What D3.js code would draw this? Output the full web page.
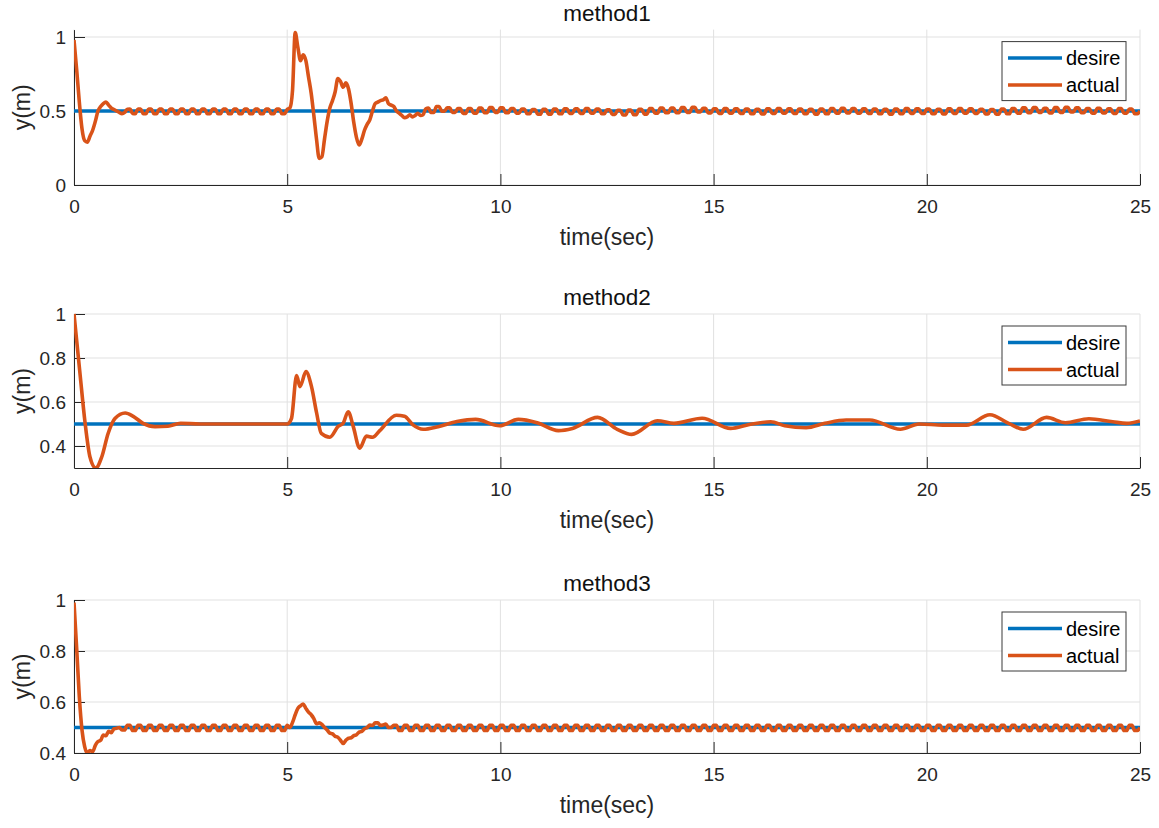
<!DOCTYPE html>
<html>
<head>
<meta charset="utf-8">
<script src="https://cdn.jsdelivr.net/npm/d3@7"></script>
<style>
  body { margin: 0; background: #fff; }
  svg { display: block; font-family: "Liberation Sans", Arial, Helvetica, sans-serif; }
</style>
</head>
<body>
<svg id="chart" width="1159" height="828"></svg>
<script>
// sample step of the simulated signals (s)
const dt = 0.0625;

const xTicks = [0, 5, 10, 15, 20, 25];
const titles = ["method1", "method2", "method3"];
const legendLabels = ["desire", "actual"];

// reference signal
const desireTime = [0, 25];
const desireValue = [0.5, 0.5];

// method1 actual, one row per second (16 samples)
const actual1Rows = [
  [0.98, 0.78, 0.56, 0.38, 0.30, 0.29, 0.33, 0.37, 0.43, 0.50, 0.53, 0.55, 0.56, 0.54, 0.52, 0.51],
  [0.50, 0.49, 0.482, 0.49, 0.512, 0.513, 0.483, 0.481, 0.513, 0.513, 0.481, 0.481, 0.513, 0.513, 0.481, 0.481],
  [0.513, 0.513, 0.481, 0.481, 0.513, 0.513, 0.481, 0.481, 0.513, 0.513, 0.481, 0.481, 0.513, 0.513, 0.481, 0.481],
  [0.513, 0.513, 0.481, 0.481, 0.513, 0.513, 0.481, 0.481, 0.513, 0.513, 0.481, 0.481, 0.513, 0.513, 0.481, 0.481],
  [0.513, 0.513, 0.481, 0.481, 0.513, 0.513, 0.481, 0.481, 0.513, 0.513, 0.481, 0.481, 0.513, 0.513, 0.481, 0.481],
  [0.51, 0.52, 0.64, 1.03, 0.93, 0.84, 0.88, 0.84, 0.73, 0.62, 0.47, 0.31, 0.18, 0.19, 0.31, 0.43],
  [0.52, 0.57, 0.63, 0.72, 0.70, 0.66, 0.69, 0.65, 0.55, 0.42, 0.32, 0.27, 0.31, 0.37, 0.41, 0.44],
  [0.50, 0.55, 0.56, 0.57, 0.575, 0.59, 0.55, 0.54, 0.53, 0.50, 0.485, 0.47, 0.455, 0.46, 0.475, 0.46],
  [0.47, 0.485, 0.47, 0.475, 0.515, 0.52, 0.49, 0.49, 0.53, 0.53, 0.498, 0.498, 0.522, 0.522, 0.49, 0.49],
  [0.516, 0.516, 0.484, 0.484, 0.517, 0.517, 0.485, 0.485, 0.52, 0.52, 0.488, 0.488, 0.523, 0.523, 0.491, 0.491],
  [0.521, 0.521, 0.489, 0.489, 0.517, 0.517, 0.485, 0.485, 0.513, 0.513, 0.481, 0.481, 0.51, 0.51, 0.478, 0.478],
  [0.511, 0.511, 0.479, 0.479, 0.513, 0.513, 0.481, 0.481, 0.515, 0.515, 0.483, 0.483, 0.515, 0.515, 0.483, 0.483],
  [0.517, 0.517, 0.485, 0.485, 0.513, 0.513, 0.481, 0.481, 0.508, 0.508, 0.476, 0.476, 0.505, 0.505, 0.473, 0.473],
  [0.507, 0.507, 0.475, 0.475, 0.511, 0.511, 0.479, 0.479, 0.517, 0.517, 0.485, 0.485, 0.52, 0.52, 0.488, 0.488],
  [0.52, 0.52, 0.488, 0.488, 0.523, 0.523, 0.491, 0.491, 0.525, 0.525, 0.493, 0.493, 0.519, 0.519, 0.487, 0.487],
  [0.515, 0.515, 0.483, 0.483, 0.517, 0.517, 0.485, 0.485, 0.515, 0.515, 0.483, 0.483, 0.513, 0.513, 0.481, 0.481],
  [0.512, 0.512, 0.48, 0.48, 0.515, 0.515, 0.483, 0.483, 0.517, 0.517, 0.485, 0.485, 0.515, 0.515, 0.483, 0.483],
  [0.513, 0.513, 0.481, 0.481, 0.511, 0.511, 0.479, 0.479, 0.513, 0.513, 0.481, 0.481, 0.517, 0.517, 0.485, 0.485],
  [0.519, 0.519, 0.487, 0.487, 0.517, 0.517, 0.485, 0.485, 0.515, 0.515, 0.483, 0.483, 0.513, 0.513, 0.481, 0.481],
  [0.511, 0.511, 0.479, 0.479, 0.513, 0.513, 0.481, 0.481, 0.516, 0.516, 0.484, 0.484, 0.515, 0.515, 0.483, 0.483],
  [0.513, 0.513, 0.481, 0.481, 0.512, 0.512, 0.48, 0.48, 0.515, 0.515, 0.483, 0.483, 0.517, 0.517, 0.485, 0.485],
  [0.515, 0.515, 0.483, 0.483, 0.512, 0.512, 0.48, 0.48, 0.51, 0.51, 0.478, 0.478, 0.513, 0.513, 0.481, 0.481],
  [0.517, 0.517, 0.485, 0.485, 0.521, 0.521, 0.489, 0.489, 0.523, 0.523, 0.491, 0.491, 0.519, 0.519, 0.487, 0.487],
  [0.523, 0.523, 0.491, 0.491, 0.525, 0.525, 0.493, 0.493, 0.521, 0.521, 0.489, 0.489, 0.517, 0.517, 0.485, 0.485],
  [0.519, 0.519, 0.487, 0.487, 0.515, 0.515, 0.483, 0.483, 0.517, 0.517, 0.485, 0.485, 0.513, 0.513, 0.481, 0.481],
  [0.50]
];

// method2 actual, read as [time, value] points (smooth response)
const actual2Points = [
  [0, 1.0], [0.14, 0.73], [0.26, 0.505], [0.375, 0.35], [0.51, 0.30], [0.65, 0.35],
  [0.8, 0.457], [0.96, 0.525], [1.2, 0.55], [1.39, 0.535], [1.62, 0.503], [1.9, 0.488],
  [2.2, 0.49], [2.5, 0.503], [2.95, 0.5], [5.0, 0.5], [5.1, 0.525], [5.22, 0.72],
  [5.3, 0.67], [5.44, 0.738], [5.57, 0.67], [5.69, 0.55], [5.8, 0.457], [6.0, 0.44],
  [6.2, 0.49], [6.31, 0.503], [6.43, 0.556], [6.55, 0.488], [6.7, 0.39], [6.86, 0.445],
  [7.0, 0.44], [7.17, 0.47], [7.56, 0.54], [7.75, 0.535], [7.95, 0.496], [8.19, 0.476],
  [8.54, 0.488], [8.98, 0.511], [9.42, 0.521], [9.98, 0.492], [10.42, 0.521], [10.86, 0.506],
  [11.36, 0.47], [11.69, 0.48], [12.28, 0.53], [12.74, 0.476], [13.08, 0.453], [13.68, 0.515],
  [14.07, 0.503], [14.73, 0.526], [15.4, 0.48], [15.84, 0.498], [16.34, 0.51], [16.67, 0.492],
  [17.17, 0.483], [17.61, 0.503], [18.11, 0.518], [18.66, 0.518], [19.38, 0.476], [19.82, 0.5],
  [20.38, 0.495], [20.93, 0.495], [21.48, 0.542], [21.92, 0.503], [22.26, 0.476], [22.81, 0.53],
  [23.25, 0.506], [23.8, 0.524], [24.36, 0.51], [24.69, 0.503], [25, 0.514]
];

// method3 actual, one row per second (16 samples)
const actual3Rows = [
  [0.99, 0.81, 0.62, 0.49, 0.425, 0.40, 0.41, 0.405, 0.43, 0.445, 0.45, 0.47, 0.468, 0.485, 0.48, 0.495],
  [0.497, 0.50, 0.49, 0.49, 0.509, 0.509, 0.488, 0.488, 0.509, 0.509, 0.488, 0.488, 0.509, 0.509, 0.488, 0.488],
  [0.509, 0.509, 0.488, 0.488, 0.509, 0.509, 0.488, 0.488, 0.509, 0.509, 0.488, 0.488, 0.509, 0.509, 0.488, 0.488],
  [0.509, 0.509, 0.488, 0.488, 0.509, 0.509, 0.488, 0.488, 0.509, 0.509, 0.488, 0.488, 0.509, 0.509, 0.488, 0.488],
  [0.509, 0.509, 0.488, 0.488, 0.509, 0.509, 0.488, 0.488, 0.509, 0.509, 0.488, 0.488, 0.509, 0.509, 0.488, 0.488],
  [0.509, 0.50, 0.52, 0.55, 0.575, 0.585, 0.592, 0.575, 0.56, 0.55, 0.535, 0.515, 0.518, 0.512, 0.50, 0.49],
  [0.478, 0.475, 0.465, 0.462, 0.45, 0.437, 0.45, 0.458, 0.46, 0.468, 0.472, 0.482, 0.485, 0.495, 0.50, 0.51],
  [0.508, 0.518, 0.518, 0.508, 0.51, 0.514, 0.50, 0.50, 0.509, 0.509, 0.488, 0.488, 0.509, 0.509, 0.488, 0.488],
  [0.509, 0.509, 0.488, 0.488, 0.509, 0.509, 0.488, 0.488, 0.509, 0.509, 0.488, 0.488, 0.509, 0.509, 0.488, 0.488],
  [0.509, 0.509, 0.488, 0.488, 0.509, 0.509, 0.488, 0.488, 0.509, 0.509, 0.488, 0.488, 0.509, 0.509, 0.488, 0.488],
  [0.509, 0.509, 0.488, 0.488, 0.509, 0.509, 0.488, 0.488, 0.509, 0.509, 0.488, 0.488, 0.509, 0.509, 0.488, 0.488],
  [0.509, 0.509, 0.488, 0.488, 0.509, 0.509, 0.488, 0.488, 0.509, 0.509, 0.488, 0.488, 0.509, 0.509, 0.488, 0.488],
  [0.509, 0.509, 0.488, 0.488, 0.509, 0.509, 0.488, 0.488, 0.509, 0.509, 0.488, 0.488, 0.509, 0.509, 0.488, 0.488],
  [0.509, 0.509, 0.488, 0.488, 0.509, 0.509, 0.488, 0.488, 0.509, 0.509, 0.488, 0.488, 0.509, 0.509, 0.488, 0.488],
  [0.509, 0.509, 0.488, 0.488, 0.509, 0.509, 0.488, 0.488, 0.509, 0.509, 0.488, 0.488, 0.509, 0.509, 0.488, 0.488],
  [0.509, 0.509, 0.488, 0.488, 0.509, 0.509, 0.488, 0.488, 0.509, 0.509, 0.488, 0.488, 0.509, 0.509, 0.488, 0.488],
  [0.509, 0.509, 0.488, 0.488, 0.509, 0.509, 0.488, 0.488, 0.509, 0.509, 0.488, 0.488, 0.509, 0.509, 0.488, 0.488],
  [0.509, 0.509, 0.488, 0.488, 0.509, 0.509, 0.488, 0.488, 0.509, 0.509, 0.488, 0.488, 0.509, 0.509, 0.488, 0.488],
  [0.509, 0.509, 0.488, 0.488, 0.509, 0.509, 0.488, 0.488, 0.509, 0.509, 0.488, 0.488, 0.509, 0.509, 0.488, 0.488],
  [0.509, 0.509, 0.488, 0.488, 0.509, 0.509, 0.488, 0.488, 0.509, 0.509, 0.488, 0.488, 0.509, 0.509, 0.488, 0.488],
  [0.509, 0.509, 0.488, 0.488, 0.509, 0.509, 0.488, 0.488, 0.509, 0.509, 0.488, 0.488, 0.509, 0.509, 0.488, 0.488],
  [0.509, 0.509, 0.488, 0.488, 0.509, 0.509, 0.488, 0.488, 0.509, 0.509, 0.488, 0.488, 0.509, 0.509, 0.488, 0.488],
  [0.509, 0.509, 0.488, 0.488, 0.509, 0.509, 0.488, 0.488, 0.509, 0.509, 0.488, 0.488, 0.509, 0.509, 0.488, 0.488],
  [0.509, 0.509, 0.488, 0.488, 0.509, 0.509, 0.488, 0.488, 0.509, 0.509, 0.488, 0.488, 0.509, 0.509, 0.488, 0.488],
  [0.509, 0.509, 0.488, 0.488, 0.509, 0.509, 0.488, 0.488, 0.509, 0.509, 0.488, 0.488, 0.509, 0.509, 0.488, 0.488],
  [0.50]
];

const yTicks1 = [0, 0.5, 1];
const yTicks2 = [0.4, 0.6, 0.8, 1];
const yTicks3 = [0.4, 0.6, 0.8, 1];

// colours (MATLAB defaults)
const blue = "#0072BD";
const orange = "#D95319";
const axisColor = "#262626";
const gridColor = "#e1e1e1";

const toPoints = (rows) => rows.flat().map((v, i) => [i * dt, v]);
const desirePoints = desireTime.map((t, i) => [t, desireValue[i]]);

// layout of the three stacked axes
const panels = [
  { title: titles[0], top: 29.6, bottom: 185, yDomain: [0, 1.05], yTicks: yTicks1, actual: toPoints(actual1Rows) },
  { title: titles[1], top: 314, bottom: 468, yDomain: [0.3, 1], yTicks: yTicks2, actual: actual2Points },
  { title: titles[2], top: 600, bottom: 753, yDomain: [0.4, 1], yTicks: yTicks3, actual: toPoints(actual3Rows) }
];

const margin = { left: 74, right: 1140 };
const svg = d3.select("#chart");
const fmt = d3.format("~g");

const xScale = d3.scaleLinear().domain([0, 25]).range([margin.left, margin.right]);

panels.forEach((p, idx) => {
  const g = svg.append("g").attr("class", "panel" + idx);
  const yScale = d3.scaleLinear().domain(p.yDomain).range([p.bottom, p.top]);

  // grid
  g.append("g")
    .selectAll("line")
    .data(xTicks)
    .join("line")
    .attr("x1", (d) => xScale(d))
    .attr("x2", (d) => xScale(d))
    .attr("y1", p.top)
    .attr("y2", p.bottom)
    .attr("stroke", gridColor)
    .attr("stroke-width", 1);
  g.append("g")
    .selectAll("line")
    .data(p.yTicks)
    .join("line")
    .attr("x1", margin.left)
    .attr("x2", margin.right)
    .attr("y1", (d) => yScale(d))
    .attr("y2", (d) => yScale(d))
    .attr("stroke", gridColor)
    .attr("stroke-width", 1);

  // axes
  const gx = g.append("g")
    .attr("transform", `translate(0, ${p.bottom})`)
    .call(d3.axisBottom(xScale).tickValues(xTicks).tickFormat(fmt).tickSizeInner(-11).tickSizeOuter(0).tickPadding(15));
  const gy = g.append("g")
    .attr("transform", `translate(${margin.left}, 0)`)
    .call(d3.axisLeft(yScale).tickValues(p.yTicks).tickFormat(fmt).tickSizeInner(-11).tickSizeOuter(0).tickPadding(8));
  [gx, gy].forEach((a) => {
    a.selectAll("path, line").attr("stroke", axisColor);
    a.selectAll("text").style("font-size", "19px").attr("fill", axisColor);
  });

  // clip to the axes box
  const clipId = "clip" + idx;
  g.append("clipPath").attr("id", clipId)
    .append("rect")
    .attr("x", margin.left)
    .attr("y", p.top - 1)
    .attr("width", margin.right - margin.left)
    .attr("height", p.bottom - p.top + 1);

  const line = d3.line()
    .x((d) => xScale(d[0]))
    .y((d) => yScale(d[1]))
    .curve(d3.curveMonotoneX);

  const lines = g.append("g").attr("clip-path", `url(#${clipId})`);
  lines.append("path")
    .datum(desirePoints)
    .attr("d", line)
    .attr("fill", "none")
    .attr("stroke", blue)
    .attr("stroke-width", 3.5);
  lines.append("path")
    .datum(p.actual)
    .attr("d", line)
    .attr("fill", "none")
    .attr("stroke", orange)
    .attr("stroke-width", 3.6)
    .attr("stroke-linejoin", "round");

  // title and labels
  g.append("text")
    .attr("x", (margin.left + margin.right) / 2)
    .attr("y", p.top - 9)
    .attr("text-anchor", "middle")
    .style("font-size", "22.5px")
    .attr("fill", "#111")
    .text(p.title);
  g.append("text")
    .attr("x", (margin.left + margin.right) / 2)
    .attr("y", p.bottom + 60)
    .attr("text-anchor", "middle")
    .style("font-size", "23px")
    .attr("fill", axisColor)
    .text("time(sec)");
  g.append("text")
    .attr("transform", `translate(30, ${(p.top + p.bottom) / 2}) rotate(-90)`)
    .attr("text-anchor", "middle")
    .style("font-size", "23px")
    .attr("fill", axisColor)
    .text("y(m)");

  // legend
  const lg = g.append("g").attr("transform", `translate(1002, ${p.top + 12})`);
  lg.append("rect")
    .attr("width", 124)
    .attr("height", 59)
    .attr("fill", "#fff")
    .attr("stroke", "#3a3a3a")
    .attr("stroke-width", 1);
  legendLabels.forEach((lab, i) => {
    const yy = 16.5 + i * 27;
    lg.append("line")
      .attr("x1", 6).attr("x2", 60)
      .attr("y1", yy).attr("y2", yy)
      .attr("stroke", i === 0 ? blue : orange)
      .attr("stroke-width", 3.5);
    lg.append("text")
      .attr("x", 64)
      .attr("y", yy)
      .attr("dy", "0.35em")
      .style("font-size", "20px")
      .attr("fill", "#000")
      .text(lab);
  });
});
</script>
</body>
</html>
